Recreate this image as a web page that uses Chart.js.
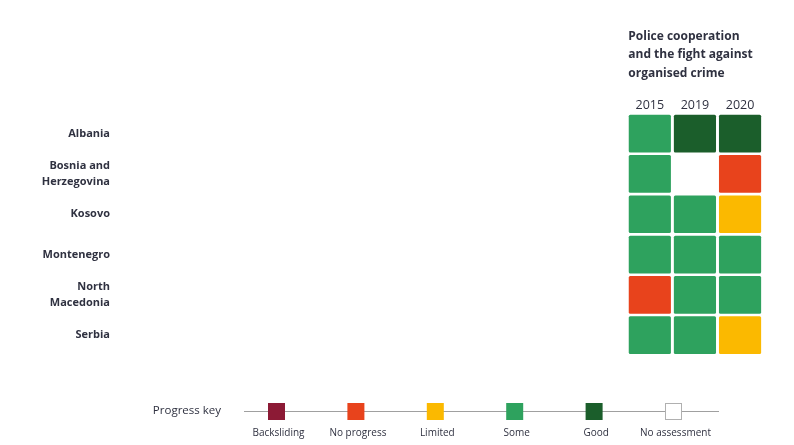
<!DOCTYPE html>
<html>
<head>
<meta charset="utf-8">
<script src="https://cdn.jsdelivr.net/npm/chart.js@4"></script>
<style>
  body { margin: 0; background: #fff; }
  #wrap { width: 794px; height: 445px; }
</style>
</head>
<body>
<div id="wrap"><canvas id="chart" width="794" height="445"></canvas></div>
<script>
const countries = ["Albania", ["Bosnia and", "Herzegovina"], "Kosovo", "Montenegro", ["North", "Macedonia"], "Serbia"];
const years = ["2015", "2019", "2020"];
const progress2015 = ["Some", "Some", "Some", "Some", "No progress", "Some"];
const progress2019 = ["Good", "No assessment", "Some", "Some", "Some", "Some"];
const progress2020 = ["Good", "No progress", "Limited", "Some", "Some", "Limited"];
const keyLabels = ["Backsliding", "No progress", "Limited", "Some", "Good", "No assessment"];
const keyColors = ["#8c1a35", "#e8431c", "#fbb900", "#2ea25e", "#1b5e2b", "#ffffff"];
const titleLines = ["Police cooperation", "and the fight against", "organised crime"];

const FONT = "'Open Sans', 'Liberation Sans', sans-serif";
const TEXT = "#2f3140";

const colorFor = status => keyColors[keyLabels.indexOf(status)];

// one floating bar per cell: x spans the year column, y is the country row
const cells = [];
const cellColors = [];
[progress2015, progress2019, progress2020].forEach((col, j) => {
  col.forEach((status, i) => {
    cells.push({ x: [j - 0.46, j + 0.46], y: countries[i] });
    cellColors.push(colorFor(status));
  });
});

const titlePlugin = {
  id: "title",
  afterDraw(chart) {
    const ctx = chart.ctx;
    const left = chart.scales.x.getPixelForValue(-0.5);
    ctx.save();
    ctx.font = "bold 12px " + FONT;
    ctx.fillStyle = TEXT;
    ctx.textAlign = "left";
    ctx.textBaseline = "middle";
    titleLines.forEach((line, i) => ctx.fillText(line, left + 1, 36.5 + i * 18.5));
    ctx.restore();
  }
};

const keyPlugin = {
  id: "progressKey",
  afterDraw(chart) {
    const ctx = chart.ctx;
    const y = 411.5;
    ctx.save();
    ctx.font = "11.5px " + FONT;
    ctx.fillStyle = TEXT;
    ctx.textAlign = "right";
    ctx.textBaseline = "middle";
    ctx.fillText("Progress key", 221, y - 1);

    ctx.strokeStyle = "#a0a0a0";
    ctx.lineWidth = 1;
    ctx.beginPath();
    ctx.moveTo(244, y);
    ctx.lineTo(719, y);
    ctx.stroke();

    ctx.font = "10px " + FONT;
    ctx.textAlign = "center";
    keyLabels.forEach((label, i) => {
      const cx = 276.5 + i * 79.4;
      ctx.fillStyle = keyColors[i];
      ctx.fillRect(cx - 8.5, y - 8.5, 17, 17);
      if (keyColors[i] === "#ffffff") {
        ctx.strokeStyle = "#b0b0b0";
        ctx.strokeRect(cx - 8, y - 8, 16, 16);
      }
      ctx.fillStyle = TEXT;
      ctx.fillText(label, cx + 2, 433);
    });
    ctx.restore();
  }
};

new Chart(document.getElementById("chart"), {
  type: "bar",
  data: {
    labels: countries,
    datasets: [{
      data: cells,
      backgroundColor: cellColors,
      borderWidth: 0,
      borderRadius: 1.5,
      borderSkipped: false,
      barThickness: 37
    }]
  },
  options: {
    indexAxis: "y",
    responsive: false,
    animation: false,
    layout: { padding: { top: 0, right: 31.4, bottom: 89.7, left: 0 } },
    scales: {
      x: {
        type: "linear",
        position: "top",
        min: -11.79,
        max: 2.5,
        afterBuildTicks: scale => { scale.ticks = years.map((_, j) => ({ value: j })); },
        afterFit: scale => { scale.height = 113.5; },
        ticks: {
          callback: value => years[value],
          color: TEXT,
          font: { family: FONT, size: 12.5 },
          padding: 1,
          maxRotation: 0,
          autoSkip: false
        },
        grid: { display: false, drawTicks: false },
        border: { display: false }
      },
      y: {
        type: "category",
        afterFit: scale => { scale.width = 118; },
        ticks: {
          color: TEXT,
          font: { family: FONT, size: 11, weight: "bold", lineHeight: 1.5 },
          padding: 8
        },
        grid: { display: false, drawTicks: false },
        border: { display: false }
      }
    },
    plugins: {
      legend: { display: false },
      tooltip: { enabled: false }
    }
  },
  plugins: [titlePlugin, keyPlugin]
});
</script>
</body>
</html>
